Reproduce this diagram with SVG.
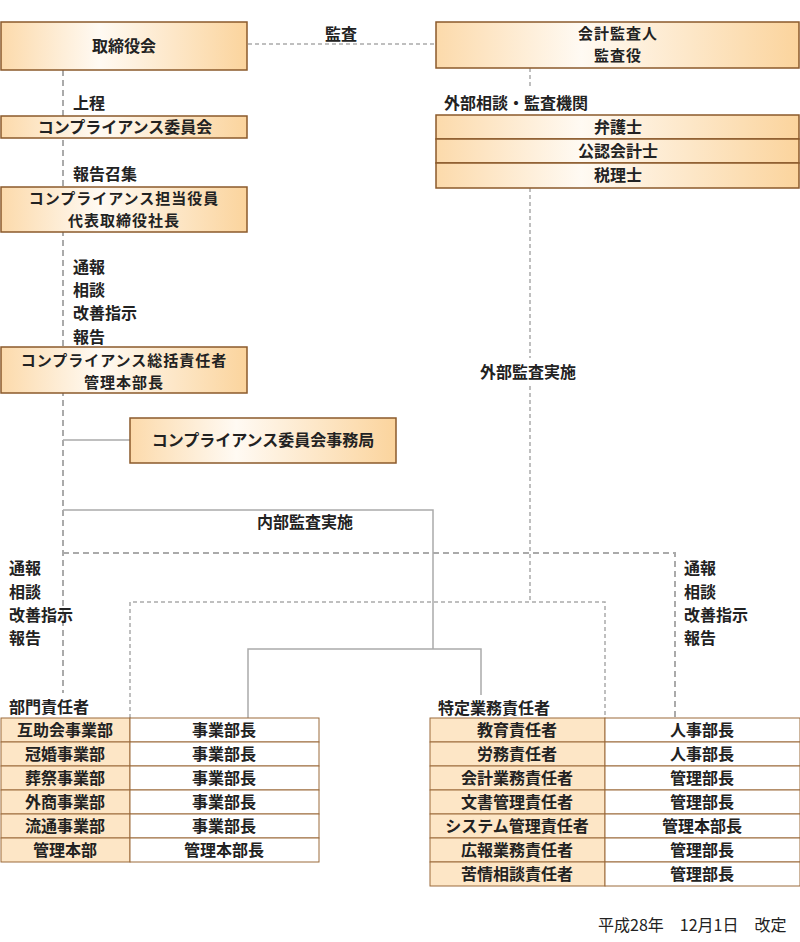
<svg xmlns="http://www.w3.org/2000/svg" width="800" height="942" viewBox="0 0 800 942">
<defs>
<linearGradient id="g" x1="0" y1="0" x2="1" y2="0">
<stop offset="0" stop-color="#fcdaab"/>
<stop offset="0.4" stop-color="#fffaf3"/>
<stop offset="1" stop-color="#fbd49d"/>
</linearGradient>
<style>
.box{fill:url(#g);stroke:#8b5a2b;stroke-width:1.5}
.t{font-family:"Noto Sans CJK JP","Noto Sans",sans-serif;font-size:16px;font-weight:bold;fill:#222}
.t2{font-family:"Noto Sans CJK JP","Noto Sans",sans-serif;font-size:15px;letter-spacing:1px;font-weight:bold;fill:#222;text-anchor:middle}
.c{text-anchor:middle}
.thick{fill:none;stroke:#aaa;stroke-width:2;stroke-dasharray:6 4}
.thin{fill:none;stroke:#aaa;stroke-width:1.5;stroke-dasharray:4 3}
.solid{fill:none;stroke:#aaa;stroke-width:1.5}
.cell{stroke:#9b6b3b;stroke-width:1}
.lc{fill:#fde6c6}
.rc{fill:#fff}
.d{font-family:"Noto Sans CJK JP","Noto Sans",sans-serif;font-size:16px;fill:#222}
</style>
</defs>
<rect width="800" height="942" fill="#fff"/>
<g id="connectors">
<path class="thin" d="M248 44H436"/>
<path class="thick" d="M63 70V693"/>
<path class="thin" d="M530 68V89"/>
<path class="thin" d="M530 188V358M530 386V602"/>
<path class="solid" d="M63 440H130"/>
<path class="solid" d="M63 510H433V649M248 718V649H481V695"/>
<path class="thick" d="M63 553H675V718"/>
<path class="thin" d="M130 718V602H605V718"/>
</g>
<g id="labels">
<text class="t c" x="341" y="40">監査</text>
<text class="t" x="73" y="109">上程</text>
<text class="t" x="73" y="180">報告召集</text>
<text class="t" x="73" y="273">通報</text>
<text class="t" x="73" y="296">相談</text>
<text class="t" x="73" y="319">改善指示</text>
<text class="t" x="73" y="343">報告</text>
<text class="t" x="444" y="109">外部相談・監査機関</text>
<text class="t c" x="528" y="378">外部監査実施</text>
<text class="t c" x="305" y="528">内部監査実施</text>
<text class="t" x="9" y="574">通報</text>
<text class="t" x="9" y="598">相談</text>
<text class="t" x="9" y="621">改善指示</text>
<text class="t" x="9" y="644">報告</text>
<text class="t" x="684" y="574">通報</text>
<text class="t" x="684" y="598">相談</text>
<text class="t" x="684" y="621">改善指示</text>
<text class="t" x="684" y="644">報告</text>
<text class="t" x="9" y="713">部門責任者</text>
<text class="t" x="438" y="714">特定業務責任者</text>
<text class="d" x="598" y="931">平成28年　12月1日　改定</text>
</g>
<g id="torishimariyakukai">
<rect class="box" x="1" y="22" width="246" height="48"/>
<text class="t c" x="124" y="52">取締役会</text>
</g>
<g id="kansanin">
<rect class="box" x="436" y="22" width="363" height="46"/>
<text class="t2" x="618" y="39">会計監査人</text>
<text class="t2" x="618" y="61">監査役</text>
</g>
<g id="iinkai">
<rect class="box" x="1" y="116" width="246" height="22"/>
<text class="t c" x="125" y="133">コンプライアンス委員会</text>
</g>
<g id="bengoshi">
<rect class="box" x="436" y="115" width="363" height="24"/>
<text class="t c" x="618" y="133">弁護士</text>
</g>
<g id="kaikeishi">
<rect class="box" x="436" y="139" width="363" height="24"/>
<text class="t c" x="618" y="157">公認会計士</text>
</g>
<g id="zeirishi">
<rect class="box" x="436" y="163" width="363" height="25"/>
<text class="t c" x="618" y="181">税理士</text>
</g>
<g id="tantou">
<rect class="box" x="1" y="187" width="246" height="45"/>
<text class="t2" x="124" y="204">コンプライアンス担当役員</text>
<text class="t2" x="124" y="226">代表取締役社長</text>
</g>
<g id="soukatsu">
<rect class="box" x="1" y="347" width="246" height="46"/>
<text class="t2" x="124" y="366">コンプライアンス総括責任者</text>
<text class="t2" x="124" y="388">管理本部長</text>
</g>
<g id="jimukyoku">
<rect class="box" x="130" y="418" width="266" height="45"/>
<text class="t c" x="263" y="446">コンプライアンス委員会事務局</text>
</g>
<g id="bumon">
<rect class="cell lc" x="1" y="718" width="129" height="24"/><rect class="cell rc" x="130" y="718" width="189" height="24"/>
<rect class="cell lc" x="1" y="742" width="129" height="24"/><rect class="cell rc" x="130" y="742" width="189" height="24"/>
<rect class="cell lc" x="1" y="766" width="129" height="24"/><rect class="cell rc" x="130" y="766" width="189" height="24"/>
<rect class="cell lc" x="1" y="790" width="129" height="24"/><rect class="cell rc" x="130" y="790" width="189" height="24"/>
<rect class="cell lc" x="1" y="814" width="129" height="24"/><rect class="cell rc" x="130" y="814" width="189" height="24"/>
<rect class="cell lc" x="1" y="838" width="129" height="24"/><rect class="cell rc" x="130" y="838" width="189" height="24"/>
<text class="t c" x="65" y="736">互助会事業部</text><text class="t c" x="224" y="736">事業部長</text>
<text class="t c" x="65" y="760">冠婚事業部</text><text class="t c" x="224" y="760">事業部長</text>
<text class="t c" x="65" y="784">葬祭事業部</text><text class="t c" x="224" y="784">事業部長</text>
<text class="t c" x="65" y="808">外商事業部</text><text class="t c" x="224" y="808">事業部長</text>
<text class="t c" x="65" y="832">流通事業部</text><text class="t c" x="224" y="832">事業部長</text>
<text class="t c" x="65" y="856">管理本部</text><text class="t c" x="224" y="856">管理本部長</text>
</g>
<g id="tokutei">
<rect class="cell lc" x="430" y="718" width="175" height="24"/><rect class="cell rc" x="605" y="718" width="195" height="24"/>
<rect class="cell lc" x="430" y="742" width="175" height="24"/><rect class="cell rc" x="605" y="742" width="195" height="24"/>
<rect class="cell lc" x="430" y="766" width="175" height="24"/><rect class="cell rc" x="605" y="766" width="195" height="24"/>
<rect class="cell lc" x="430" y="790" width="175" height="24"/><rect class="cell rc" x="605" y="790" width="195" height="24"/>
<rect class="cell lc" x="430" y="814" width="175" height="24"/><rect class="cell rc" x="605" y="814" width="195" height="24"/>
<rect class="cell lc" x="430" y="838" width="175" height="24"/><rect class="cell rc" x="605" y="838" width="195" height="24"/>
<rect class="cell lc" x="430" y="862" width="175" height="24"/><rect class="cell rc" x="605" y="862" width="195" height="24"/>
<text class="t c" x="517" y="736">教育責任者</text><text class="t c" x="702" y="736">人事部長</text>
<text class="t c" x="517" y="760">労務責任者</text><text class="t c" x="702" y="760">人事部長</text>
<text class="t c" x="517" y="784">会計業務責任者</text><text class="t c" x="702" y="784">管理部長</text>
<text class="t c" x="517" y="808">文書管理責任者</text><text class="t c" x="702" y="808">管理部長</text>
<text class="t c" x="517" y="832">システム管理責任者</text><text class="t c" x="702" y="832">管理本部長</text>
<text class="t c" x="517" y="856">広報業務責任者</text><text class="t c" x="702" y="856">管理部長</text>
<text class="t c" x="517" y="880">苦情相談責任者</text><text class="t c" x="702" y="880">管理部長</text>
</g>
</svg>
